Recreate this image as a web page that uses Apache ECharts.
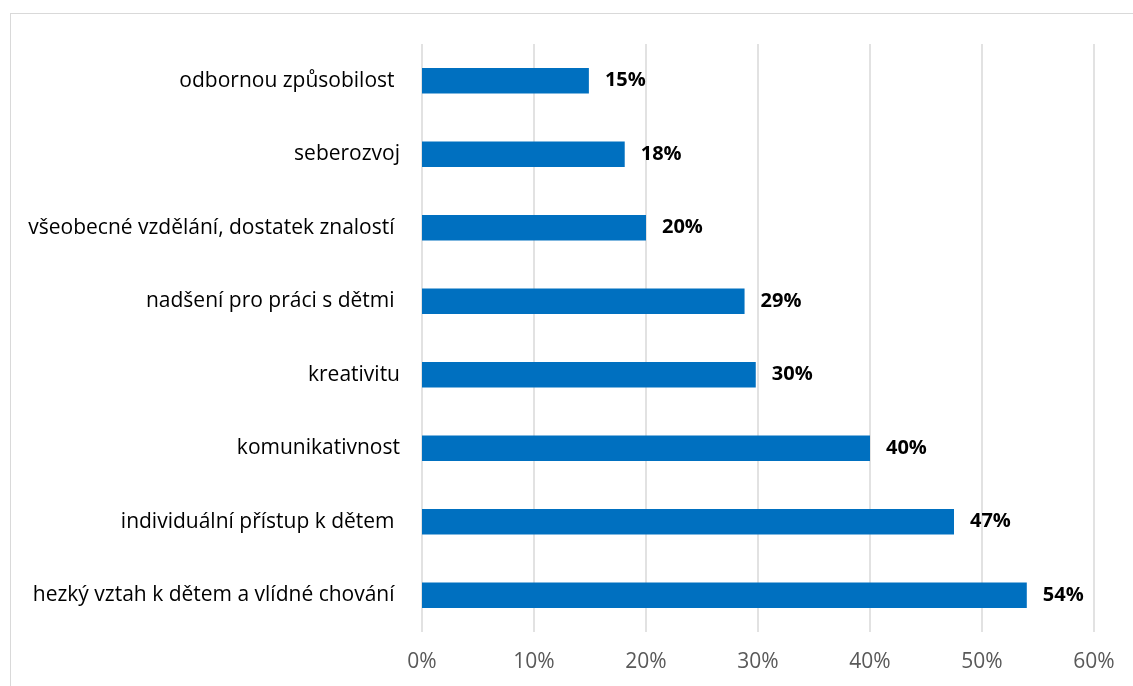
<!DOCTYPE html>
<html>
<head>
<meta charset="utf-8">
<script src="https://cdn.jsdelivr.net/npm/echarts@6/dist/echarts.min.js"></script>
<style>
html,body{margin:0;padding:0;background:#fff;}
#frame{position:absolute;left:10px;top:13px;width:1140px;height:700px;border:1px solid #d9d9d9;box-sizing:border-box;}
#c{position:absolute;left:0;top:0;width:1133px;height:686px;}
</style>
</head>
<body>
<div id="frame"></div>
<div id="c"></div>
<script>
const categories = [
  'hezký vztah k dětem a vlídné chování ',
  'individuální přístup k dětem ',
  'komunikativnost',
  'kreativitu',
  'nadšení pro práci s dětmi ',
  'všeobecné vzdělání, dostatek znalostí ',
  'seberozvoj',
  'odbornou způsobilost '
];
const values = [54.0, 47.5, 40.0, 29.8, 28.8, 20.0, 18.1, 14.9];
const valueLabels = ['54%', '47%', '40%', '30%', '29%', '20%', '18%', '15%'];

const chart = echarts.init(document.getElementById('c'));
chart.setOption({
  animation: false,
  grid: {left: 422, right: 39, top: 44, bottom: 54, containLabel: false},
  xAxis: {
    type: 'value', min: 0, max: 60, interval: 10,
    axisLine: {show: false}, axisTick: {show: false},
    splitLine: {lineStyle: {color: '#d9d9d9', width: 1.5}},
    axisLabel: {formatter: v => v + '%', color: '#595959', fontSize: 21, fontFamily: 'Open Sans', margin: 20}
  },
  yAxis: {
    type: 'category', data: categories,
    axisLine: {show: false}, axisTick: {show: false},
    axisLabel: {color: '#000', fontSize: 21, fontFamily: 'Open Sans', margin: 22}
  },
  series: [{
    type: 'bar', data: values, barWidth: '35%',
    itemStyle: {color: '#0070c0'},
    label: {
      show: true, position: 'right', distance: 16,
      formatter: p => valueLabels[p.dataIndex],
      color: '#000', fontWeight: 'bold', fontSize: 20, fontFamily: 'Open Sans'
    }
  }]
});
</script>
</body>
</html>
